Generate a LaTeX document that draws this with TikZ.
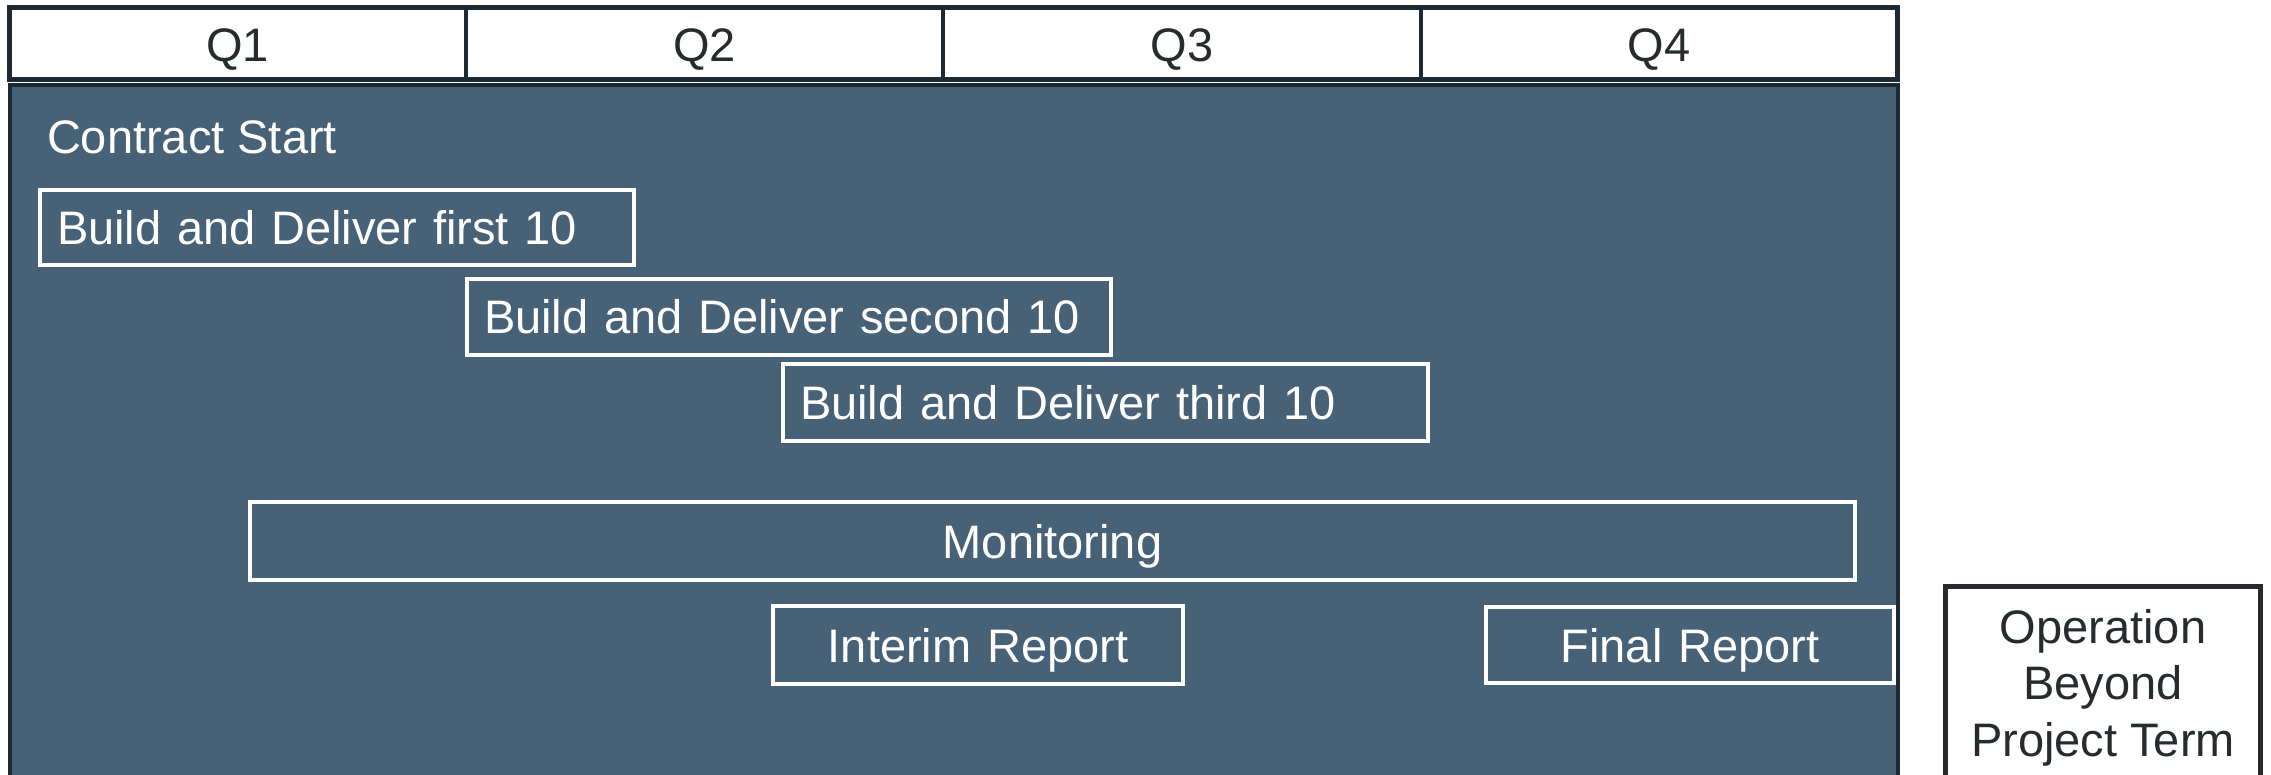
\documentclass[tikz,border=0pt]{standalone}
\usepackage{fontspec}
\setmainfont{Liberation Sans}
\definecolor{panelfill}{HTML}{476276}
\definecolor{inkdark}{HTML}{1D2A33}
\definecolor{textdark}{HTML}{262B2E}
\begin{document}
\begin{tikzpicture}[x=1pt,y=-1pt,
  every node/.style={font=\fontsize{47}{56.5}\selectfont, inner sep=0pt, outer sep=0pt},
  qcell/.style={draw=inkdark, line width=4.5pt, fill=white, text=textdark,
    minimum height=72pt, text height=37pt, text depth=0pt, anchor=north west},
  bar/.style={draw=white, line width=4pt, text=white, text height=34pt,
    text depth=0pt, anchor=north west, inner xsep=17pt},
  phase/.style={draw=inkdark, line width=4pt, fill=panelfill, anchor=north west},
  beyond/.style={draw=textdark, line width=5pt, fill=white, anchor=north west},
]
\useasboundingbox (0,0) rectangle (2271,775);
\clip (0,0) rectangle (2271,775);

% project term panel
\node[phase, minimum width=1888pt, minimum height=715pt] (panel) at (10,85) {};
\node[anchor=base west, text=white] (start) at (47,154) {Contract Start};

% quarter header
\node[qcell, minimum width=456.5pt] (q1) at (9.5,7.5) {Q1};
\node[qcell, minimum width=477pt] (q2) at (466,7.5) {Q2};
\node[qcell, minimum width=478pt] (q3) at (943,7.5) {Q3};
\node[qcell, minimum width=476.5pt] (q4) at (1421,7.5) {Q4};

% activity bars
\node[bar, minimum width=594pt, minimum height=75pt, text width=560pt, align=left]
  (b1) at (40,190) {Build and Deliver first 10};
\node[bar, minimum width=644pt, minimum height=76pt, text width=610pt, align=left]
  (b2) at (467,279) {Build and Deliver second 10};
\node[bar, minimum width=645pt, minimum height=77pt, text width=611pt, align=left]
  (b3) at (783,364) {Build and Deliver third 10};
\node[bar, minimum width=1605pt, minimum height=78pt, text width=1571pt, align=center]
  (mon) at (250,502) {Monitoring};
\node[bar, minimum width=410pt, minimum height=78pt, text width=376pt, align=center]
  (interim) at (773,606) {Interim Report};
\node[bar, minimum width=408pt, minimum height=76pt, text width=374pt, align=center]
  (final) at (1486,607) {Final Report};

% after the project term
\node[beyond, minimum width=315pt, minimum height=260pt] (op) at (1945.5,586.5) {};
\node[anchor=north, align=center, text=textdark] (optext) at (2103,609)
  {Operation\\Beyond\\Project Term};
\end{tikzpicture}
\end{document}
